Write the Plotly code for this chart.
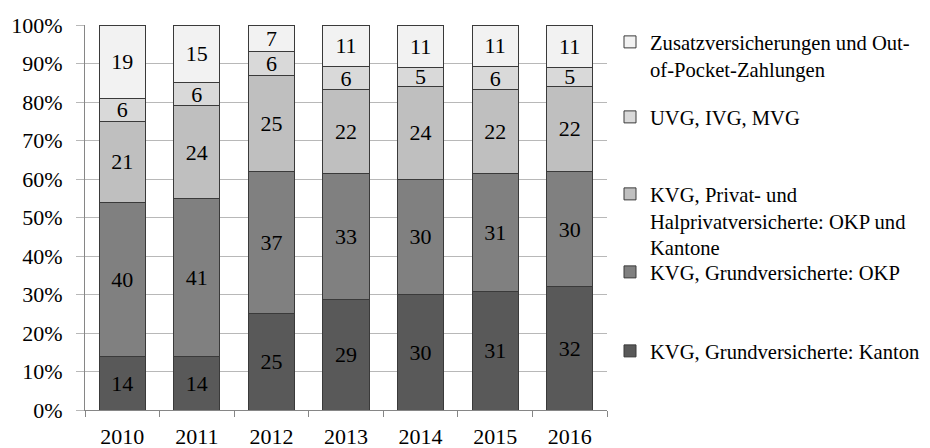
import plotly.graph_objects as go

years = ["2010", "2011", "2012", "2013", "2014", "2015", "2016"]
kanton = [14, 14, 25, 29, 30, 31, 32]
okp = [40, 41, 37, 33, 30, 31, 30]
privat = [21, 24, 25, 22, 24, 22, 22]
uvg = [6, 6, 6, 6, 5, 6, 5]
zusatz = [19, 15, 7, 11, 11, 11, 11]

names = [
    "KVG, Grundversicherte: Kanton",
    "KVG, Grundversicherte: OKP",
    "KVG, Privat- und<br>Halprivatversicherte: OKP und<br>Kantone",
    "UVG, IVG, MVG",
    "Zusatzversicherungen und Out-<br>of-Pocket-Zahlungen",
]
series = [kanton, okp, privat, uvg, zusatz]
colors = ["#595959", "#808080", "#bfbfbf", "#d9d9d9", "#f2f2f2"]
legend_ids = ["legend5", "legend4", "legend3", "legend2", "legend"]

FONT = "'Liberation Serif', 'Times New Roman', Times, serif"
W, H = 930, 448
ML, MR, MT, MB = 85, 323, 25, 38
plot_h = H - MT - MB
plot_w = W - ML - MR

def py(pix):
    return (H - MB - pix) / plot_h

def px(pix):
    return (pix - ML) / plot_w

fig = go.Figure()
for name, vals, col, lg in zip(names, series, colors, legend_ids):
    fig.add_trace(go.Bar(
        x=years, y=vals, name=name,
        marker=dict(color=col, line=dict(color="#3a3a3a", width=1)),
        text=[str(v) for v in vals], texttemplate="%{text}",
        textposition="inside", insidetextanchor="middle", textangle=0,
        constraintext="none",
        textfont=dict(family=FONT, size=22, color="#000000"),
        legend=lg, hoverinfo="skip",
    ))

legend_tops = {"legend": 22, "legend2": 97, "legend3": 174, "legend4": 252, "legend5": 331}
layout_legends = {}
for lg, top in legend_tops.items():
    layout_legends[lg] = dict(
        x=px(610), xanchor="left", y=py(top), yanchor="top",
        font=dict(family=FONT, size=20.6, color="#000000"),
        bgcolor="rgba(0,0,0,0)", borderwidth=0, valign="top",
        itemwidth=30, tracegroupgap=0,
    )

fig.update_layout(
    width=W, height=H,
    margin=dict(l=ML, r=MR, t=MT, b=MB, autoexpand=False),
    paper_bgcolor="white", plot_bgcolor="white",
    barmode="stack", barnorm="percent", bargap=0.38,
    font=dict(family=FONT, size=22, color="#000000"),
    uniformtext=dict(minsize=22, mode="show"),
    showlegend=True,
    **layout_legends,
)
fig.update_xaxes(
    type="category", showline=True, linecolor="#868686", linewidth=1,
    ticks="outside", tickson="boundaries", ticklen=6, tickcolor="#868686",
    tickfont=dict(family=FONT, size=22, color="#000000"), showgrid=False,
    ticklabelstandoff=7,
)
fig.update_yaxes(
    range=[0, 100], dtick=10, ticksuffix="%",
    showgrid=True, gridcolor="#b8b8b8", gridwidth=1,
    showline=True, linecolor="#868686", linewidth=1, zeroline=False,
    ticks="outside", ticklen=8, tickcolor="#b8b8b8",
    tickfont=dict(family=FONT, size=22, color="#000000"),
    ticklabelstandoff=9,
)

fig.write_html("out.html")
